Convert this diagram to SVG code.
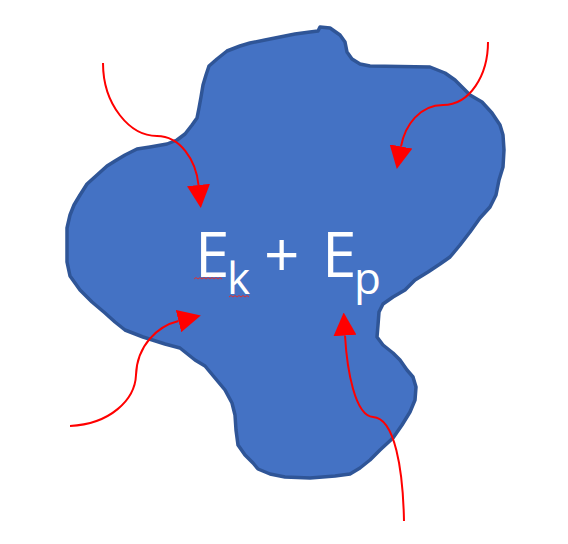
<svg xmlns="http://www.w3.org/2000/svg" width="568" height="544" viewBox="0 0 568 544">
<style>
.blob{fill:#4472C4;stroke:#2F5597;stroke-width:3.5;stroke-linejoin:round}
.arr{fill:none;stroke:#FF0000;stroke-width:2}
.t{fill:#FFFFFF;font-family:"Open Sans","Noto Sans",sans-serif}
.sq{fill:none;stroke:#E03030;stroke-width:1}
</style>
<defs>
<marker id="ah" markerUnits="userSpaceOnUse" markerWidth="23" markerHeight="23" viewBox="0 0 22 22" refX="0" refY="11" orient="auto">
<path d="M0,0 L22,11 L0,22 Z" fill="#FF0000"/>
</marker>
</defs>
<rect width="568" height="544" fill="#FFFFFF"/>
<g id="blob">
<path class="blob" d="M320,27 L330,28 L340,35 L345,42 L347,52 L352,59 L360,64 L370,66 L430,67 L445,73 L455,80 L470,95 L482,102 L492,113 L500,125 L503,135 L504,150 L503,167 L499,180 L496,195 L490,207 L480,218 L470,232 L460,245 L450,257 L440,264 L428,272 L415,280 L405,290 L393,297 L383,304 L379,312 L378,325 L377,337 L383,345 L393,353 L400,360 L407,370 L413,377 L416,387 L415,400 L410,412 L402,425 L393,438 L380,450 L370,460 L360,468 L350,474 L335,476 L310,478 L285,477 L270,474 L258,469 L253,463 L245,455 L238,445 L236,430 L235,415 L232,403 L225,390 L215,378 L205,366 L195,360 L180,348 L165,344 L143,337 L125,330 L115,322 L105,313 L92,302 L80,290 L70,276 L67,262 L67,245 L67,228 L70,215 L74,205 L80,195 L87,184 L97,175 L107,166 L115,161 L125,155 L137,149 L150,147 L167,144 L177,140 L185,134 L192,125 L197,118 L199,108 L201,97 L203,85 L206,75 L209,66 L217,59 L227,51 L240,46 L250,43 L265,40 L280,37 L295,34 L310,32 L318,31 Z"/>
</g>
<g id="label">
<text class="t" x="195" y="277" font-size="62">E</text>
<text class="t" x="227" y="294" font-size="44">k</text>
<text class="t" x="264" y="277" font-size="62">+</text>
<text class="t" x="322" y="277" font-size="62">E</text>
<text class="t" x="354" y="294" font-size="44">p</text>
<path class="sq" d="M194,279 l2,-1.5 l2,1.5 l2,-1.5 l2,1.5 l2,-1.5 l2,1.5 l2,-1.5 l2,1.5 l2,-1.5 l2,1.5 l2,-1.5 l2,1.5 l2,-1.5 l2,1.5"/>
<path class="sq" d="M229,297 l2,-1.5 l2,1.5 l2,-1.5 l2,1.5 l2,-1.5 l2,1.5 l2,-1.5 l2,1.5 l2,-1.5 l2,1.5"/>
</g>
<g id="connectors">
<path class="arr" marker-end="url(#ah)" d="M103,63 C103,105 130,136 157,136 C180,136 196,160 198.5,185"/>
<path class="arr" marker-end="url(#ah)" d="M488,42 C488,75 470,105 443,105 C420,105 405,125 401,146.5"/>
<path class="arr" marker-end="url(#ah)" d="M70,426 C110,424 135,400 136,375 C137,345 158,326 178.5,321"/>
<path class="arr" marker-end="url(#ah)" d="M404,521 C403,470 395,418 373,417 C355,416 347,370 345,335.5"/>
</g>
</svg>
